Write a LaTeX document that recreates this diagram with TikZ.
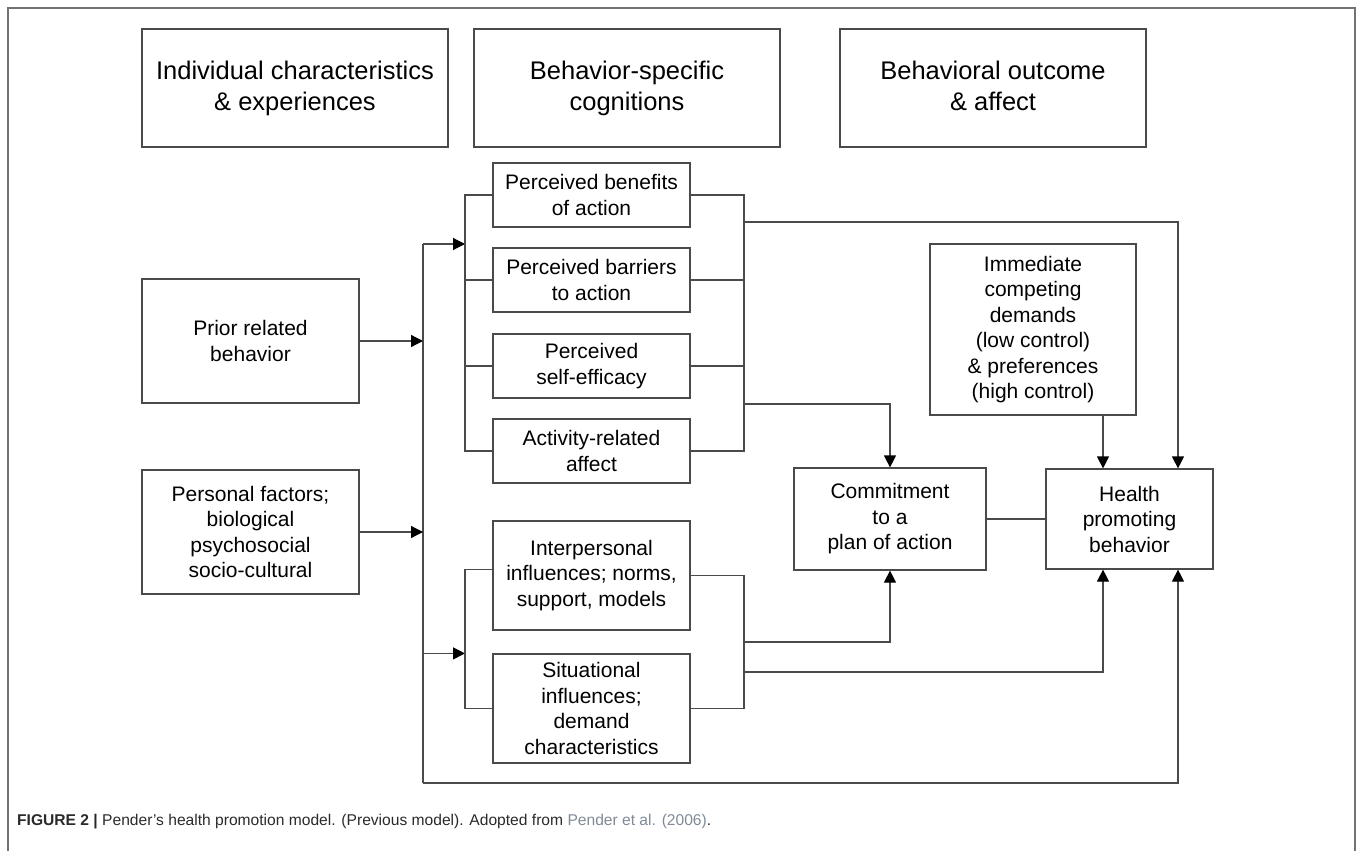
\documentclass[tikz,border=0pt]{standalone}
\usepackage{fontspec}
\setmainfont{Liberation Sans}
\usetikzlibrary{arrows.meta}
\definecolor{linecol}{HTML}{4A4A4A}
\definecolor{linkcol}{HTML}{7F8A96}
\definecolor{capcol}{HTML}{2A2A2A}
\begin{document}
\begin{tikzpicture}[x=1pt,y=-1pt,
  box/.style={draw=linecol, line width=1.2pt, align=center, inner sep=0pt, text=black,
    font=\fontsize{21}{25.5}\selectfont},
  headbox/.style={box, minimum width=306pt, minimum height=118pt,
    font=\fontsize{25.5}{31}\selectfont},
  conn/.style={draw=linecol, line width=1.2pt},
  arr/.style={conn, -{Triangle[length=12pt,width=12pt,color=black]}}
]
\useasboundingbox (0,0) rectangle (1357,851);
% outer frame (open at bottom)
\draw[draw=gray!90!black, line width=1.2pt] (8,851) -- (8,8) -- (1355,8) -- (1355,851);

% header boxes
\node[headbox] (h1) at (295,88) {Individual characteristics\\\& experiences};
\node[headbox] (h2) at (627,88) {Behavior-specific\\cognitions};
\node[headbox] (h3) at (993,88) {Behavioral outcome\\\& affect\vphantom{g}};

% left boxes
\node[box, minimum width=217pt, minimum height=124pt] (prior) at (250.5,341) {Prior related\\behavior};
\node[box, minimum width=217pt, minimum height=124pt] (pers) at (250.5,532) {Personal factors;\\biological\\psychosocial\\socio-cultural};

% cognition boxes
\node[box, minimum width=197pt, minimum height=64pt] (ben) at (591.5,195) {Perceived benefits\\of action};
\node[box, minimum width=197pt, minimum height=64pt] (bar) at (591.5,280) {Perceived barriers\\to action};
\node[box, minimum width=197pt, minimum height=64pt] (eff) at (591.5,366) {Perceived\\self-efficacy};
\node[box, minimum width=197pt, minimum height=64pt] (act) at (591.5,451) {Activity-related\\affect};
\node[box, minimum width=197pt, minimum height=109pt] (inter) at (591.5,575.5) {Interpersonal\\influences; norms,\\support, models};
\node[box, minimum width=197pt, minimum height=109pt] (sit) at (591.5,708.5) {Situational\\influences;\\demand\\characteristics};

% right boxes
\node[box, minimum width=206pt, minimum height=171pt] (imm) at (1033,329.5) {Immediate\\competing\\demands\\(low control)\\\& preferences\\(high control)};
\node[box, minimum width=192pt, minimum height=102pt] (com) at (890,519) {Commitment\\to a\\plan of action};
\node[box, minimum width=167pt, minimum height=100pt] (hea) at (1129.5,519) {Health\\promoting\\behavior};

% helper coordinates
\coordinate (spT) at (423,244);
\coordinate (spB) at (423,783);
\coordinate (bl) at (465,0);
\coordinate (br) at (744,0);
\coordinate (hx1) at (1103,0);
\coordinate (hx2) at (1178,0);
\coordinate (o1) at (744,222);
\coordinate (o2) at (744,404);
\coordinate (o3) at (744,642);
\coordinate (o4) at (744,672);

% spine
\draw[conn] (spT) -- (spB);
\draw[arr] (spT) -- (spT -| bl);
\draw[arr] (prior.east) -- (prior.east -| spT);
\draw[arr] (pers.east) -- (pers.east -| spT);
\draw[arr] (spT |- sit.north) -- (bl |- sit.north);
\draw[arr] (spB) -- (spB -| hx2) -- (hea.south -| hx2);

% upper bracket
\draw[conn] (ben.west) -- (ben.west -| bl) -- (act.west -| bl) -- (act.west);
\draw[conn] (bar.west) -- (bar.west -| bl);
\draw[conn] (eff.west) -- (eff.west -| bl);
\draw[conn] (ben.east) -- (ben.east -| br) -- (act.east -| br) -- (act.east);
\draw[conn] (bar.east) -- (bar.east -| br);
\draw[conn] (eff.east) -- (eff.east -| br);

% lower bracket
\draw[conn] ([yshift=6pt]inter.west) -- ([yshift=6pt]inter.west -| bl) -- (sit.west -| bl) -- (sit.west);
\draw[conn] (inter.east) -- (inter.east -| br) -- (sit.east -| br) -- (sit.east);

% outputs
\draw[arr] (o1) -- (o1 -| hx2) -- (hea.north -| hx2);
\draw[arr] (o2) -| (com.north);
\draw[arr] (o3) -| (com.south);
\draw[arr] (o4) -- (o4 -| hx1) -- (hea.south -| hx1);
\draw[arr] (imm.south -| hx1) -- (hea.north -| hx1);
\draw[conn] (com.east) -- (hea.west);

% caption
\node[anchor=west, inner sep=0pt, text=capcol, font=\fontsize{15.6}{18}\selectfont] (cap) at (17,822)
  {\textbf{FIGURE 2 |} Pender’s health promotion model. (Previous model). Adopted from \textcolor{linkcol}{Pender et al. (2006)}.};
\end{tikzpicture}
\end{document}
